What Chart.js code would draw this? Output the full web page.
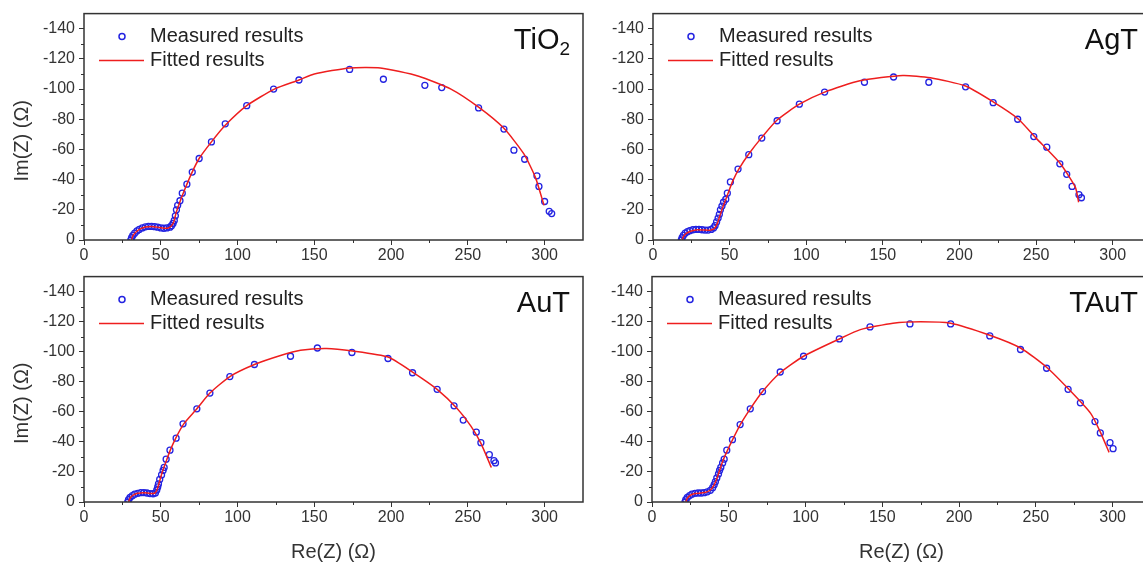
<!DOCTYPE html>
<html>
<head>
<meta charset="utf-8">
<script src="https://cdn.jsdelivr.net/npm/chart.js@4.4.1/dist/chart.umd.min.js"></script>
<style>
  html, body { margin: 0; padding: 0; background: #fff; width: 1143px; height: 564px; overflow: hidden; position: relative; }
  canvas { position: absolute; }
</style>
</head>
<body>
<canvas id="cTiO2" width="590" height="268" style="left:0;top:0"></canvas>
<canvas id="cAgT" width="590" height="268" style="left:570px;top:0"></canvas>
<canvas id="cAuT" width="590" height="301" style="left:0;top:263px"></canvas>
<canvas id="cTAuT" width="590" height="301" style="left:570px;top:263px"></canvas>
<script>
// axis ticks
const xTicks = [0, 50, 100, 150, 200, 250, 300];
const xMinor = [25, 75, 125, 175, 225, 275];
const yTicks = [-140, -120, -100, -80, -60, -40, -20, 0];
const yMinor = [-130, -110, -90, -70, -50, -30, -10];

// [Re(Z), Im(Z)] in ohm
const tio2Measured = [[30.5,0],[31,-1.5],[31.8,-3],[33,-4.5],[34.5,-6],[36,-7],[38,-8],[40,-8.7],[42,-9],[44,-9],[46,-8.8],[48,-8.5],[50,-8],[52,-7.8],[54,-8],[56,-8.5],[57,-9.5],[58,-11],[58.8,-13],[59.5,-16],[60.2,-20],[61,-23],[62.5,-26],[64,-31],[67,-37],[70.5,-45],[75,-54],[83,-65],[92,-77],[106,-89],[123.5,-100],[140,-106],[173,-113],[195,-106.5],[222,-102.5],[233,-101],[257,-87.5],[273.5,-73.5],[280,-59.5],[287,-53.5],[295,-42.5],[296.3,-35.5],[300,-25.5],[303,-19],[304.6,-17.5]];
const tio2Fitted = [[31,0],[32,-3],[34,-5.5],[37,-7.5],[40,-8.6],[44,-9],[48,-8.5],[52,-7.8],[55,-8],[57,-9.5],[58.5,-12],[60,-18],[62,-24],[65,-32],[70,-44],[75,-54],[83,-65],[92,-76],[106,-89],[124,-100],[140,-106],[150,-110],[173,-114],[193,-114],[218,-108.5],[239,-100],[257,-88],[273.5,-74],[286.5,-57],[294,-41.5],[299.6,-23]];

const agtMeasured = [[18.5,0],[19,-1.5],[19.8,-3],[21,-4.5],[22.5,-5.5],[24,-6.2],[26,-6.8],[28,-7],[30,-7],[32,-6.8],[34,-6.6],[36,-6.6],[38,-7],[39.5,-8],[40.5,-9.5],[41.5,-12],[42.5,-14.5],[43.3,-17],[44,-20],[45,-22.5],[46,-25],[47.5,-27],[48.5,-31],[50.5,-38.5],[55.5,-47],[62.5,-56.5],[71,-67.5],[81,-79],[95.5,-90],[112,-98],[138,-104.5],[157,-108],[180,-104.5],[204,-101.5],[222,-91],[238,-80],[248.5,-68.5],[257,-61.5],[265.5,-50.5],[270,-43.5],[273.5,-35.5],[278,-30],[279.6,-28]];
const agtFitted = [[19,0],[20,-2.5],[22,-4.5],[25,-6],[29,-6.8],[33,-6.6],[37,-6.5],[40,-7.5],[42,-11],[44,-17],[46,-23],[49,-31],[52,-39],[56,-47],[62.5,-57],[71,-68],[81,-79.5],[95.5,-90],[112,-98],[135,-105.5],[163,-109],[181,-107.5],[204,-102],[222,-91.5],[238,-80.5],[250,-67.5],[265.5,-51],[275.6,-35],[277.8,-25]];

const autMeasured = [[28.5,0],[29,-1.5],[30,-3],[31.5,-4.2],[33,-5.2],[35,-5.8],[37,-6.2],[39,-6.3],[41,-6],[43,-5.6],[45,-5.5],[46.5,-6],[47.4,-8],[48,-10],[48.5,-12],[49.3,-15],[50.5,-18],[51.5,-21],[52.2,-23],[53.5,-28.5],[56,-34.5],[60,-42.5],[64.5,-52],[73.5,-62],[82,-72.5],[95,-83.5],[111,-91.5],[134.5,-97],[152,-102.5],[174.5,-99.5],[198,-95.5],[214,-86],[230,-75],[241,-64],[247,-54.5],[255.5,-46.5],[258.5,-39.5],[264,-31.5],[267,-27.5],[268,-26]];
const autFitted = [[29,0],[30,-2.5],[32,-4.5],[35,-5.8],[39,-6.2],[43,-5.7],[46,-5.8],[47.5,-8],[49,-13],[51,-20],[53.5,-27],[56,-34],[60,-43],[65,-52],[73.5,-62],[82,-72.5],[95,-83.5],[111,-91.5],[128,-97.5],[141,-101],[158,-102.2],[175,-100.5],[198,-96.5],[214,-86.5],[230,-75],[243,-62.3],[252,-50.5],[258.3,-39.5],[265.3,-23]];

const tautMeasured = [[21.5,0],[22,-1.5],[23,-3],[24.5,-4.3],[26,-5.2],[28,-5.8],[30,-6],[32,-6],[34,-6.2],[36,-6.8],[38,-7.8],[39.5,-9.5],[40.5,-11.5],[41.3,-13.5],[42.2,-16],[43.3,-18.7],[44,-21],[44.8,-23],[46,-26],[47,-28.5],[48.7,-34.5],[52.4,-41.5],[57.4,-51.5],[64,-62],[72,-73.5],[83.5,-86.5],[98.7,-97],[122,-108.5],[142,-116.5],[168,-118.5],[194.5,-118.5],[220,-110.5],[240,-101.5],[257,-89],[271,-75],[279,-66],[288.5,-53.5],[292,-46],[298.3,-39.5],[300.3,-35.5]];
const tautFitted = [[22,0],[23,-2.5],[25,-4.5],[28,-5.6],[32,-6],[35,-6.5],[38,-8],[40,-10.5],[42,-15],[44,-21],[46,-27],[49,-34],[52.5,-41.5],[57.5,-51.5],[64,-62],[72,-73.5],[83.5,-86],[98.7,-97],[122,-108.5],[135.7,-114.7],[157,-119],[175,-120],[194.5,-119],[220,-111],[240,-102.5],[257,-89.7],[271,-75.5],[285.7,-59],[291.8,-47],[297.7,-33]];

const legendNames = ['Measured results', 'Fitted results'];
const xTitle = 'Re(Z) (\u03A9)';
const yTitle = 'Im(Z) (\u03A9)';

const FONT = "'Liberation Sans', Arial, sans-serif";
const AXIS = '#333';
const BLUE = 'rgb(35,35,225)';
const RED = 'rgb(238,30,30)';

const panelExtras = {
  id: 'panelExtras',
  afterDatasetsDraw(chart, args, opts) {
    const ctx = chart.ctx;
    const a = chart.chartArea;
    const xs = chart.scales.x, ys = chart.scales.y;
    ctx.save();

    // minor ticks
    ctx.strokeStyle = AXIS;
    ctx.lineWidth = 1;
    ctx.beginPath();
    xMinor.forEach(v => {
      const px = Math.round(xs.getPixelForValue(v)) + 0.5;
      ctx.moveTo(px, a.bottom);
      ctx.lineTo(px, a.bottom + 3);
    });
    yMinor.forEach(v => {
      const py = Math.round(ys.getPixelForValue(v)) + 0.5;
      ctx.moveTo(a.left, py);
      ctx.lineTo(a.left - 3, py);
    });
    ctx.stroke();

    // frame
    ctx.lineWidth = 1.5;
    ctx.strokeRect(a.left, a.top, a.right - a.left, a.bottom - a.top);

    // legend
    ctx.strokeStyle = BLUE;
    ctx.lineWidth = 1.5;
    ctx.beginPath();
    ctx.arc(a.left + 38, a.top + 23, 3, 0, Math.PI * 2);
    ctx.stroke();
    ctx.strokeStyle = RED;
    ctx.beginPath();
    ctx.moveTo(a.left + 15, a.top + 47);
    ctx.lineTo(a.left + 60, a.top + 47);
    ctx.stroke();
    ctx.fillStyle = '#222';
    ctx.font = '20px ' + FONT;
    ctx.textBaseline = 'middle';
    ctx.textAlign = 'left';
    ctx.fillText(legendNames[0], a.left + 66, a.top + 23);
    ctx.fillText(legendNames[1], a.left + 66, a.top + 47);

    // sample label, top right
    ctx.fillStyle = '#111';
    ctx.textBaseline = 'alphabetic';
    ctx.textAlign = 'left';
    ctx.font = '29px ' + FONT;
    const mainW = ctx.measureText(opts.label).width;
    let subW = 0;
    if (opts.sub) {
      ctx.font = '19px ' + FONT;
      subW = ctx.measureText(opts.sub).width;
    }
    const x0 = a.right - 13 - mainW - subW;
    ctx.font = '29px ' + FONT;
    ctx.fillText(opts.label, x0, a.top + 35);
    if (opts.sub) {
      ctx.font = '19px ' + FONT;
      ctx.fillText(opts.sub, x0 + mainW, a.top + 41);
    }

    // y axis title
    if (opts.yTitle) {
      ctx.fillStyle = AXIS;
      ctx.font = '20px ' + FONT;
      ctx.textAlign = 'center';
      ctx.textBaseline = 'middle';
      ctx.translate(a.left - 62, (a.top + a.bottom) / 2 + 14);
      ctx.rotate(-Math.PI / 2);
      ctx.fillText(yTitle, 0, 0);
    }
    ctx.restore();
  }
};

function toPoints(pairs) {
  return pairs.map(p => ({ x: p[0], y: p[1] }));
}

function makePanel(id, measured, fitted, label, sub, layout) {
  const ctx = document.getElementById(id).getContext('2d');
  return new Chart(ctx, {
    type: 'scatter',
    data: {
      datasets: [{
        label: legendNames[1],
        data: toPoints(fitted),
        showLine: true,
        borderColor: RED,
        borderWidth: 1.5,
        pointRadius: 0,
        tension: 0.2,
        order: 0
      }, {
        label: legendNames[0],
        data: toPoints(measured),
        showLine: false,
        pointRadius: 3,
        pointBorderWidth: 1.3,
        pointBorderColor: BLUE,
        pointBackgroundColor: 'rgba(0,0,0,0)',
        order: 1
      }]
    },
    options: {
      responsive: false,
      animation: false,
      layout: { padding: { top: 10, right: layout.padRight, left: 0, bottom: 0 } },
      plugins: {
        legend: { display: false },
        tooltip: { enabled: false },
        panelExtras: { label: label, sub: sub, yTitle: layout.yTitle }
      },
      scales: {
        x: {
          type: 'linear',
          min: 0,
          max: 325,
          afterBuildTicks: s => { s.ticks = xTicks.map(v => ({ value: v })); },
          afterFit: s => { s.height = layout.xHeight; },
          border: { display: false },
          grid: { drawOnChartArea: false, drawTicks: true, tickLength: 5, color: AXIS, lineWidth: 1 },
          ticks: { autoSkip: false, maxRotation: 0, padding: 1, color: AXIS, font: { family: FONT, size: 16 } },
          title: {
            display: layout.xTitle,
            text: xTitle,
            color: AXIS,
            font: { family: FONT, size: 20 },
            padding: { top: 0, bottom: 0 }
          }
        },
        y: {
          type: 'linear',
          min: -150,
          max: 0,
          reverse: true,
          afterBuildTicks: s => { s.ticks = yTicks.map(v => ({ value: v })); },
          afterFit: s => { s.width = layout.yWidth; },
          border: { display: false },
          grid: { drawOnChartArea: false, drawTicks: true, tickLength: 5, color: AXIS, lineWidth: 1 },
          ticks: { autoSkip: false, padding: 4, color: AXIS, font: { family: FONT, size: 16 } }
        }
      }
    },
    plugins: [panelExtras]
  });
}

makePanel('cTiO2', tio2Measured, tio2Fitted, 'TiO', '2',
  { padRight: 7, yWidth: 84, xHeight: 28, xTitle: false, yTitle: true });
makePanel('cAgT', agtMeasured, agtFitted, 'AgT', '',
  { padRight: 9, yWidth: 83, xHeight: 28, xTitle: false, yTitle: false });
makePanel('cAuT', autMeasured, autFitted, 'AuT', '',
  { padRight: 7, yWidth: 84, xHeight: 62, xTitle: true, yTitle: true });
makePanel('cTAuT', tautMeasured, tautFitted, 'TAuT', '',
  { padRight: 9, yWidth: 82, xHeight: 62, xTitle: true, yTitle: false });
</script>
</body>
</html>
